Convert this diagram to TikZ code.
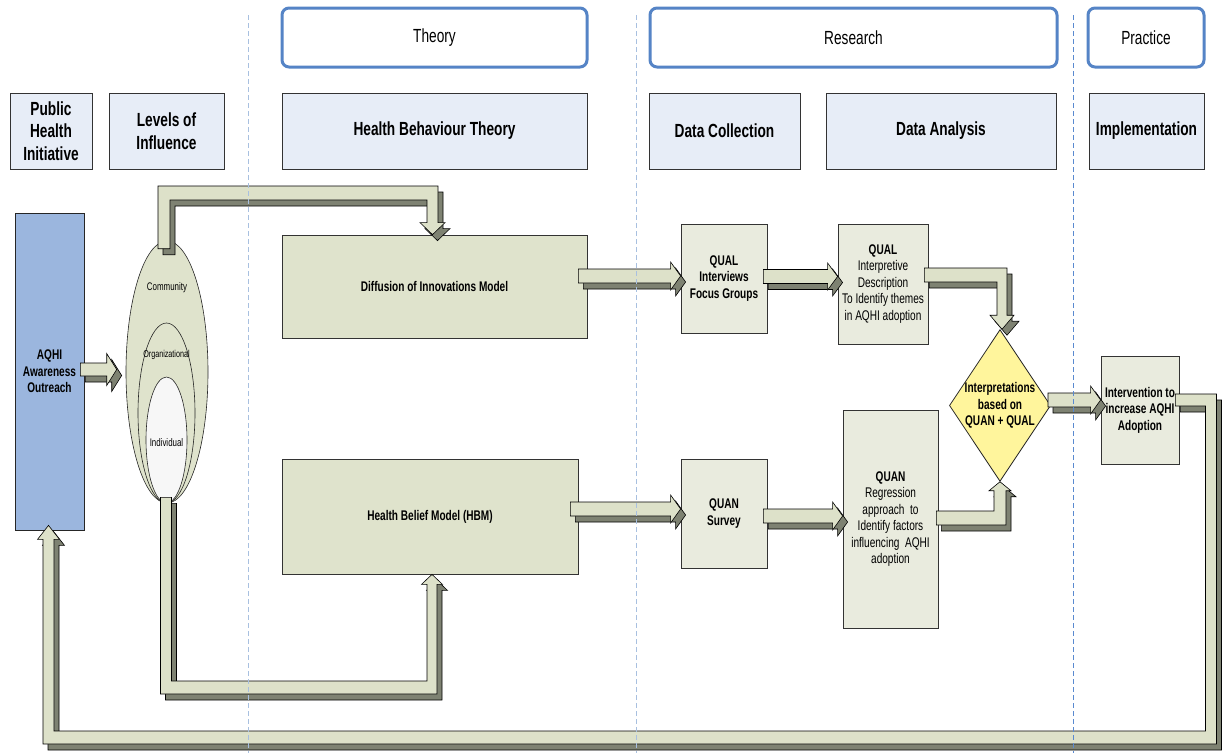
\documentclass[tikz,border=0pt]{standalone}
\usepackage{fontspec}
\setmainfont{Liberation Sans}[FakeStretch=0.72]
\usetikzlibrary{shapes.geometric,calc}

\definecolor{hdrblue}{HTML}{5584C6}
\definecolor{hdfill}{HTML}{E7EDF7}
\definecolor{aqfill}{HTML}{9BB6DE}
\definecolor{olivefill}{HTML}{DFE3CC}
\definecolor{litefill}{HTML}{E9EBDE}
\definecolor{pipelight}{HTML}{DDE1C9}
\definecolor{pipedark}{HTML}{7E8272}
\definecolor{diafill}{HTML}{FFF59C}
\definecolor{divlight}{HTML}{A8C0E0}
\definecolor{divdark}{HTML}{5A8AD0}

\newcommand\hdfont{\fontsize{19}{22.5}\selectfont}
\newcommand\bxfont{\fontsize{14}{16.5}\selectfont}
\newcommand\smfont{\fontsize{11}{13}\selectfont}

% a 3D block pipe: dark extruded copy behind, light face in front
\newcommand\pipe[1]{\path[pipeback] #1; \path[pipefront] #1;}
% straight horizontal block arrow: start, tip, half shaft, half head
\newcommand\harrow[4]{%
  \pipe{let \p1=(#1), \p2=(#2) in
    (\x1,\y1+#3) -- (\x2-10,\y1+#3) -- (\x2-10,\y1+#4) -- (\x2,\y1)
    -- (\x2-10,\y1-#4) -- (\x2-10,\y1-#3) -- (\x1,\y1-#3) -- cycle}}

\begin{document}
\begin{tikzpicture}[x=1pt,y=-1pt,
  phase/.style={draw=hdrblue, line width=3, rounded corners=7, fill=white,
    font=\hdfont, minimum height=59, inner sep=0},
  colhd/.style={draw=black!80, line width=0.8, fill=hdfill,
    font=\hdfont\bfseries, align=center, minimum height=76, inner sep=0},
  olive/.style={draw=black!80, line width=0.8, fill=olivefill,
    font=\bxfont\bfseries, align=center, inner sep=0},
  lite/.style={draw=black!80, line width=0.8, fill=litefill,
    font=\bxfont, align=center, inner sep=0},
  lvl/.style={ellipse, draw=black!85, line width=0.6, inner sep=0},
  lvltxt/.style={font=\smfont, inner sep=0},
  pipeback/.style={fill=pipedark, draw=black, line width=0.6,
    transform canvas={xshift=5pt, yshift=-6pt}},
  pipefront/.style={fill=pipelight, draw=black, line width=0.6},
  divline/.style={dash pattern=on 5pt off 3pt, line width=1},
]
\useasboundingbox (0,0) rectangle (1224,753);

% phase banners
\node[phase, minimum width=305] (theory)   at (434.5,37.5) {Theory};
\node[phase, minimum width=407] (research) at (853.5,37.5) {Research};
\node[phase, minimum width=116] (practice) at (1146,37.5)  {Practice};

% column headings
\node[colhd, minimum width=82]  (phi) at (51,131)    {Public\\Health\\Initiative};
\node[colhd, minimum width=115] (loi) at (166.5,131) {Levels of\\Influence};
\node[colhd, minimum width=305] (hbt) at (434.5,131) {Health Behaviour Theory};
\node[colhd, minimum width=151] (dc)  at (724.5,131) {Data Collection};
\node[colhd, minimum width=230] (da)  at (941,131)   {Data Analysis};
\node[colhd, minimum width=115] (imp) at (1146.5,131){Implementation};

% public health initiative
\node[draw=black!85, line width=0.8, fill=aqfill, font=\bxfont\bfseries, align=center,
  inner sep=0, minimum width=69, minimum height=317] (aqhi) at (49.5,371.5)
  {AQHI\\Awareness\\Outreach};

% levels of influence
\node[lvl, fill=olivefill, minimum width=82, minimum height=262] (ell)    at (167,372) {};
\node[lvl, fill=olivefill, minimum width=57, minimum height=180] (ellorg) at (166.5,413) {};
\node[lvl, fill=white!97!black, minimum width=41, minimum height=126] (ellind) at (166.5,440) {};
\node[lvltxt] (lcom) at (167,288) {Community};
\node[lvltxt, font=\fontsize{10}{12}\selectfont] (lorg) at (166.5,355) {Organizational};
\node[lvltxt] (lind) at (166.5,443) {Individual};

% theory models
\node[olive, minimum width=305, minimum height=103] (diff) at (434.5,286.5) {Diffusion of Innovations Model};
\node[olive, minimum width=296, minimum height=115] (hbm)  at (430,516.5)   {Health Belief Model (HBM)};

% data collection and analysis
\node[lite, minimum width=86, minimum height=109] (qi)   at (724,278.5)
  {\textbf{QUAL}\\\textbf{Interviews}\\\textbf{Focus Groups}};
\node[lite, minimum width=90, minimum height=120] (qip)  at (883,284)
  {\textbf{QUAL}\\Interpretive\\Description\\To Identify themes\\in AQHI adoption};
\node[lite, minimum width=86, minimum height=109] (qs)   at (724,513.5)
  {\textbf{QUAN}\\\textbf{Survey}};
\node[lite, minimum width=95, minimum height=218] (quan) at (890.5,519)
  {\textbf{QUAN}\\Regression\\approach~ to\\Identify factors\\influencing~ AQHI\\adoption};
\node[diamond, draw=black!85, line width=0.8, fill=diafill, font=\bxfont\bfseries,
  align=center, inner sep=0, shape aspect=0.667] (dia) at (1000,405.5)
  {Interpretations\\based on\\QUAN + QUAL};
\node[lite, minimum width=78, minimum height=108, font=\bxfont\bfseries] (intv) at (1140,410)
  {Intervention to\\increase AQHI\\Adoption};

% anchor points of the block pipes
\coordinate (a1s) at ($(aqhi.east)+(-4,-2)$);
\coordinate (a1t) at ($(ell.west)+(-9,0)$);
\coordinate (a2s) at ($(diff.east)+(-9,-10.5)$);
\coordinate (a3s) at ($(qi.east)+(-4,-2)$);
\coordinate (a4s) at ($(hbm.east)+(-8,-7.5)$);
\coordinate (a5s) at ($(qs.east)+(-4,2.5)$);
\coordinate (a6s) at ($(dia.east)+(-3,-5.5)$);
\coordinate (tls) at ($(ell.north)+(0,8)$);
\coordinate (tlc) at (164,193);
\coordinate (tlt) at ($(diff.north)+(-2,0)$);
\coordinate (bls) at ($(ell.south)+(0,-6)$);
\coordinate (blc) at (166,687.5);
\coordinate (blt) at ($(hbm.south)+(2,0)$);
\coordinate (fbs) at ($(intv.east)+(-4,-10)$);
\coordinate (fbc) at (1211,737.5);
\coordinate (fbt) at ($(aqhi.south)+(-1,-5)$);
\coordinate (qds) at ($(qip.east)+(-4,-9)$);
\coordinate (qdt) at ($(dia.north)+(2,0)$);
\coordinate (nds) at ($(quan.east)+(-2,-1)$);

% straight block arrows
\harrow{a1s}{a1t}{6.5}{16}
\harrow{a2s}{qi.west}{7}{14}
\harrow{a3s}{qip.west}{7}{13.5}
\harrow{a4s}{qs.west}{7}{14}
\harrow{a5s}{quan.west}{7}{14}
\harrow{a6s}{intv.west}{7}{14}

% community level to diffusion model
\pipe{let \p1=(tls), \p2=(tlc), \p3=(tlt) in
  (\x2-6,\y1) -- (\x2-6,\y2+7) -- (\x3+5.5,\y2+7) -- (\x3+5.5,\y3+12)
  -- (\x3+12.5,\y3+12) -- (\x3,\y3) -- (\x3-12.5,\y3+12) -- (\x3-5.5,\y3+12)
  -- (\x3-5.5,\y2-7) -- (\x2+6,\y2-7) -- (\x2+6,\y1) -- cycle}

% individual level to health belief model
\pipe{let \p1=(bls), \p2=(blc), \p3=(blt) in
  (\x2-5.5,\y1) -- (\x2-5.5,\y2-6.5) -- (\x3+5,\y2-6.5) -- (\x3+5,\y3-10)
  -- (\x3+10.5,\y3-10) -- (\x3,\y3) -- (\x3-10.5,\y3-10) -- (\x3-5,\y3-10)
  -- (\x3-5,\y2+6.5) -- (\x2+5.5,\y2+6.5) -- (\x2+5.5,\y1) -- cycle}

% qualitative analysis into interpretation
\pipe{let \p1=(qds), \p3=(qdt) in
  (\x1,\y1+7) -- (\x3+5,\y1+7) -- (\x3+5,\y3+14) -- (\x3+12,\y3+14) -- (\x3,\y3)
  -- (\x3-12,\y3+14) -- (\x3-5,\y3+14) -- (\x3-5,\y1-7) -- (\x1,\y1-7) -- cycle}

% quantitative analysis into interpretation
\pipe{let \p1=(nds), \p3=(dia.south) in
  (\x1,\y1+7) -- (\x3-6,\y1+7) -- (\x3-6,\y3-9) -- (\x3-11,\y3-9) -- (\x3,\y3)
  -- (\x3+11,\y3-9) -- (\x3+6,\y3-9) -- (\x3+6,\y1-7) -- (\x1,\y1-7) -- cycle}

% feedback from intervention to outreach
\pipe{let \p1=(fbs), \p2=(fbc), \p3=(fbt) in
  (\x1,\y1+6) -- (\x2+5.5,\y1+6) -- (\x2+5.5,\y2-6.5) -- (\x3-5.5,\y2-6.5)
  -- (\x3-5.5,\y3-14) -- (\x3-11,\y3-14) -- (\x3,\y3) -- (\x3+11,\y3-14)
  -- (\x3+5.5,\y3-14) -- (\x3+5.5,\y2+6.5) -- (\x2-5.5,\y2+6.5)
  -- (\x2-5.5,\y1-6) -- (\x1,\y1-6) -- cycle}

% column dividers
\coordinate (d1t) at (248,15);  \coordinate (d1b) at (248,753);
\coordinate (d2t) at (636,15);  \coordinate (d2b) at (636,753);
\coordinate (d3t) at (1073,15); \coordinate (d3b) at (1073,753);
\draw[divline, draw=divlight] (d1t) -- (d1b);
\draw[divline, draw=divlight] (d2t) -- (d2b);
\draw[divline, draw=divdark]  (d3t) -- (d3b);
\end{tikzpicture}
\end{document}
